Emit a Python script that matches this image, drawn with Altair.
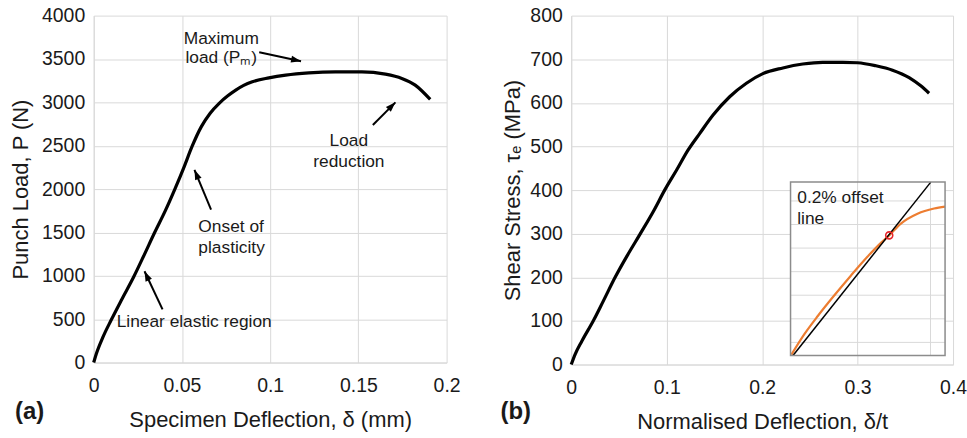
import altair as alt
import pandas as pd

FONT = "Liberation Sans"
TXT = "#1a1a1a"
GRID = "#d9d9d9"

# ---------------- Panel (a): punch load vs specimen deflection ----------------
defl_a = [0, 0.0014, 0.0051, 0.0099, 0.0159, 0.0227, 0.0287, 0.0344, 0.0404, 0.0460,
          0.0513, 0.0555, 0.0610, 0.0660, 0.0711, 0.0760, 0.0805, 0.0850, 0.0899,
          0.0993, 0.1088, 0.1219, 0.1370, 0.1520, 0.1653, 0.1746, 0.1822, 0.1907]
load_a = [0, 95, 287, 490, 728, 989, 1245, 1494, 1743, 2000,
          2260, 2480, 2720, 2875, 2989, 3075, 3141, 3195, 3237,
          3282, 3314, 3340, 3352, 3352, 3325, 3276, 3199, 3034]

xticks_a = [0, 0.05, 0.1, 0.15, 0.2]
yticks_a = [0, 500, 1000, 1500, 2000, 2500, 3000, 3500, 4000]

ann_a_text = ["Maximum", "load (Pₘ)", "Onset of", "plasticity",
              "Linear elastic region", "Load", "reduction"]
ann_a_x = [0.0723, 0.0723, 0.0593, 0.0593, 0.0130, 0.1446, 0.1446]
ann_a_y = [3678, 3452, 1509, 1268, 406, 2501, 2260]
ann_a_align = ["center", "center", "left", "left", "left", "center", "center"]

arrow_x0 = [0.0938, 0.0665, 0.0390, 0.1582]
arrow_y0 = [3578, 1762, 613, 2739]
arrow_x1 = [0.1175, 0.0571, 0.0288, 0.1710]
arrow_y1 = [3475, 2222, 1053, 3000]
arrow_angle = [102, 337, 335, 45]

# ---------------- Panel (b): shear stress vs normalised deflection ----------------
ndefl_b = [0, 0.0042, 0.0112, 0.0233, 0.0337, 0.0460, 0.0582, 0.0721, 0.0860, 0.0982,
           0.1104, 0.1225, 0.1347, 0.1486, 0.1660, 0.1835, 0.2008, 0.2217, 0.2426,
           0.2635, 0.2844, 0.3000, 0.3192, 0.3366, 0.3540, 0.3662, 0.3749]
stress_b = [0, 24, 54, 101, 146, 200, 248, 299, 351, 401,
            446, 492, 530, 572, 614, 645, 667, 680, 689,
            693, 693, 692, 685, 675, 658, 639, 622]

xticks_b = [0, 0.1, 0.2, 0.3, 0.4]
yticks_b = [0, 100, 200, 300, 400, 500, 600, 700, 800]

# inset (zoom on the 0.2% offset construction)
inset_x_range = [0.004, 0.110]
inset_y_range = [22, 390]
inset_x_grid = [0.05, 0.10]
inset_y_grid = [50, 100, 150, 200, 250, 300, 350]
inset_curve_x = [0.0046, 0.0136, 0.0227, 0.0341, 0.0455, 0.0569, 0.0660, 0.0717,
                 0.0797, 0.0911, 0.1025, 0.1100]
inset_curve_y = [24, 68, 106, 150, 192, 232, 261, 277, 302, 323, 334, 338]
offset_line_x = [0.0057, 0.1002]
offset_line_y = [22, 390]
yield_x = [0.0717]
yield_y = [277]
inset_text = ["0.2% offset", "line"]
inset_text_x = [0.0086, 0.0086]
inset_text_y = [346, 301]

# inset placement inside panel (b) plot area (fractions of width / height)
INSET_FX = (0.5744, 0.9791)
INSET_FY = (0.0257, 0.5229)


def outer_domain(lo, hi, f0, f1):
    span = (hi - lo) / (f1 - f0)
    dmin = lo - f0 * span
    return [dmin, dmin + span]


# ---------------- build panel (a) ----------------
xa = alt.X("x:Q", scale=alt.Scale(domain=[0, 0.2], nice=False, zero=False),
           axis=alt.Axis(values=xticks_a, format="~g", title="Specimen Deflection, δ (mm)",
                         labelPadding=14, titlePadding=15))
ya = alt.Y("y:Q", scale=alt.Scale(domain=[0, 4000], nice=False),
           axis=alt.Axis(values=yticks_a, format="d", title="Punch Load, P (N)",
                         labelPadding=9, titlePadding=9))

df_a = pd.DataFrame({"x": defl_a, "y": load_a})
curve_a = alt.Chart(df_a).mark_line(color="black", strokeWidth=3.2, interpolate="monotone").encode(
    x=xa, y=ya)

df_ann = pd.DataFrame({"x": ann_a_x, "y": ann_a_y, "t": ann_a_text, "al": ann_a_align})
ann_left = alt.Chart(df_ann[df_ann.al == "left"]).mark_text(
    font=FONT, fontSize=17.4, color=TXT, align="left", baseline="alphabetic"
).encode(x=xa, y=ya, text="t:N")
ann_center = alt.Chart(df_ann[df_ann.al == "center"]).mark_text(
    font=FONT, fontSize=17.4, color=TXT, align="center", baseline="alphabetic"
).encode(x=xa, y=ya, text="t:N")

df_arr = pd.DataFrame({"x": arrow_x0, "y": arrow_y0, "x2": arrow_x1, "y2": arrow_y1})
arrow_shafts = alt.Chart(df_arr).mark_rule(color="black", strokeWidth=2).encode(
    x=xa, y=ya, x2="x2:Q", y2="y2:Q")
df_head = pd.DataFrame({"x": arrow_x1, "y": arrow_y1, "ang": arrow_angle})
arrow_heads = alt.Chart(df_head).mark_point(
    shape="M0,0 L0.7,2 L-0.7,2 Z", filled=True, color="black", size=100, opacity=1
).encode(x=xa, y=ya, angle=alt.Angle("ang:Q", scale=None))

label_a = alt.Chart(pd.DataFrame({"t": ["(a)"]})).mark_text(
    font=FONT, fontSize=24, fontWeight="bold", color=TXT, align="left", baseline="alphabetic"
).encode(x=alt.value(-79), y=alt.value(405), text="t:N")

chart_a = alt.layer(curve_a, arrow_shafts, arrow_heads, ann_left, ann_center, label_a).properties(
    width=354, height=348)

# ---------------- build panel (b) ----------------
xb = alt.X("x:Q", scale=alt.Scale(domain=[0, 0.4], nice=False, zero=False),
           axis=alt.Axis(values=xticks_b, format="~g", title="Normalised Deflection, δ/t",
                         labelPadding=14, titlePadding=15))
yb = alt.Y("y:Q", scale=alt.Scale(domain=[0, 800], nice=False),
           axis=alt.Axis(values=yticks_b, format="d", title="Shear Stress, τₑ (MPa)",
                         labelPadding=9, titlePadding=5))

df_b = pd.DataFrame({"x": ndefl_b, "y": stress_b})
curve_b = alt.Chart(df_b).mark_line(color="black", strokeWidth=3.2, interpolate="monotone").encode(
    x=xb, y=yb)

label_b = alt.Chart(pd.DataFrame({"t": ["(b)"]})).mark_text(
    font=FONT, fontSize=24, fontWeight="bold", color=TXT, align="left", baseline="alphabetic"
).encode(x=alt.value(-71), y=alt.value(405), text="t:N")

ix_dom = outer_domain(inset_x_range[0], inset_x_range[1], *INSET_FX)
iy_dom = outer_domain(inset_y_range[0], inset_y_range[1], *INSET_FY)
ix = alt.X("ix:Q", scale=alt.Scale(domain=ix_dom, nice=False, zero=False), axis=None)
iy = alt.Y("iy:Q", scale=alt.Scale(domain=iy_dom, nice=False, zero=False), axis=None)

df_box = pd.DataFrame({"ix": [inset_x_range[0]], "ix2": [inset_x_range[1]],
                       "iy": [inset_y_range[0]], "iy2": [inset_y_range[1]]})
inset_fill = alt.Chart(df_box).mark_rect(fill="white", strokeWidth=0).encode(
    x=ix, x2="ix2:Q", y=iy, y2="iy2:Q")
inset_border = alt.Chart(df_box).mark_rect(fillOpacity=0, stroke="#8c8c8c", strokeWidth=1.5).encode(
    x=ix, x2="ix2:Q", y=iy, y2="iy2:Q")

df_gx = pd.DataFrame({"ix": inset_x_grid, "iy": inset_y_range[0], "iy2": inset_y_range[1]})
grid_x = alt.Chart(df_gx).mark_rule(color=GRID, strokeWidth=1).encode(x=ix, y=iy, y2="iy2:Q")
df_gy = pd.DataFrame({"iy": inset_y_grid, "ix": inset_x_range[0], "ix2": inset_x_range[1]})
grid_y = alt.Chart(df_gy).mark_rule(color=GRID, strokeWidth=1).encode(y=iy, x=ix, x2="ix2:Q")

orange = alt.Chart(pd.DataFrame({"ix": inset_curve_x, "iy": inset_curve_y})).mark_line(
    color="#ED7D31", strokeWidth=2.2, interpolate="monotone").encode(x=ix, y=iy)
offset_line = alt.Chart(pd.DataFrame({"ix": offset_line_x, "iy": offset_line_y})).mark_line(
    color="black", strokeWidth=1.5).encode(x=ix, y=iy)
yield_pt = alt.Chart(pd.DataFrame({"ix": yield_x, "iy": yield_y})).mark_point(
    shape="circle", filled=False, color="#e8262b", size=50, strokeWidth=1.6, opacity=1
).encode(x=ix, y=iy)
itext = alt.Chart(pd.DataFrame({"ix": inset_text_x, "iy": inset_text_y, "t": inset_text})).mark_text(
    font=FONT, fontSize=17.4, color=TXT, align="left", baseline="alphabetic"
).encode(x=ix, y=iy, text="t:N")

chart_b = alt.layer(curve_b, label_b, inset_fill, grid_x, grid_y, orange, offset_line,
                    yield_pt, itext, inset_border).resolve_scale(
    x="independent", y="independent").properties(width=383, height=350)

chart = alt.hconcat(chart_a, chart_b, spacing=40).properties(
    padding={"left": 9, "top": 5, "right": 0, "bottom": 0}
).configure_axis(
    gridColor=GRID, gridWidth=1, domainColor=GRID, domainWidth=1,
    ticks=False, tickSize=0, labelFlush=False,
    labelFont=FONT, labelFontSize=19.5, labelColor=TXT,
    titleFont=FONT, titleFontSize=22, titleFontWeight="normal", titleColor=TXT
).configure_view(stroke=None)

chart.save("out.html", embed_options={"renderer": "svg", "actions": False})
